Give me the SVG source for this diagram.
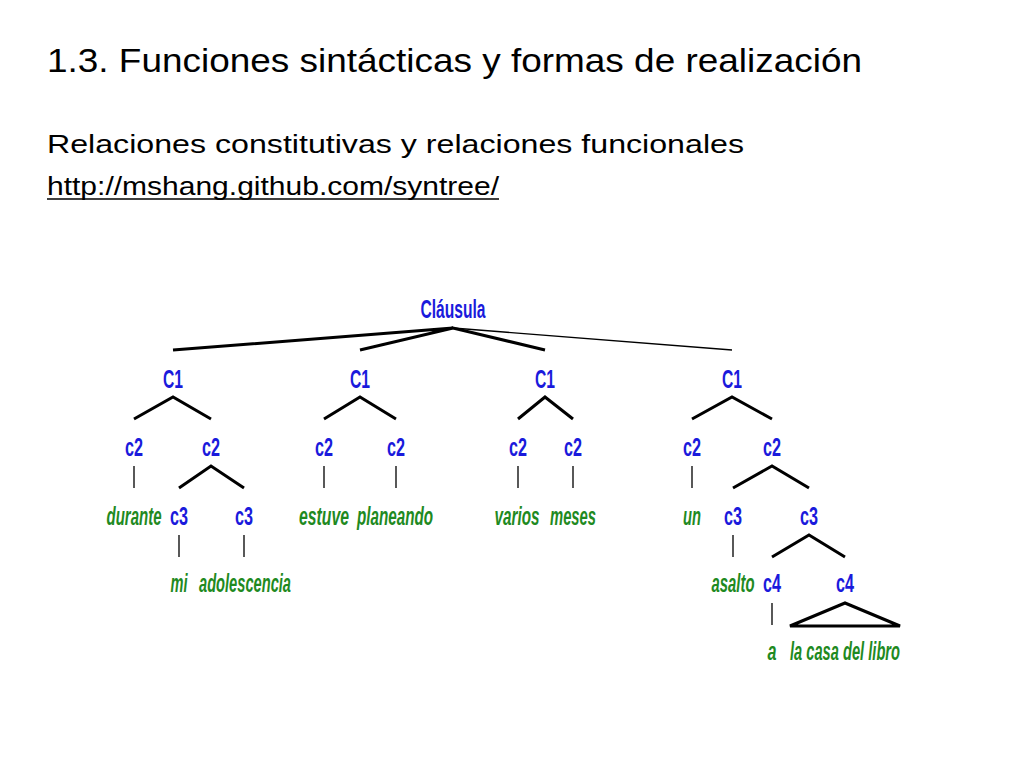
<svg xmlns="http://www.w3.org/2000/svg" width="1024" height="768" viewBox="0 0 1024 768">
<style>
.h{font-family:"Liberation Sans",Arial,sans-serif;fill:#000}
.n{font-family:"Liberation Sans",Arial,sans-serif;font-weight:bold;font-size:25px;fill:#1a1adc;text-anchor:middle}
.w{font-family:"Liberation Sans",Arial,sans-serif;font-weight:bold;font-style:italic;font-size:25px;fill:#1f8a1f;text-anchor:middle}
.e{stroke:#000;stroke-width:3;fill:none}
.t{stroke:#000;stroke-width:1.3;fill:none}
</style>
<rect width="1024" height="768" fill="#fff"/>
<text class="h" x="47" y="72" font-size="33" textLength="815" lengthAdjust="spacingAndGlyphs">1.3. Funciones sintácticas y formas de realización</text>
<text class="h" x="47" y="153" font-size="25" textLength="697" lengthAdjust="spacingAndGlyphs">Relaciones constitutivas y relaciones funcionales</text>
<text class="h" x="47" y="195" font-size="25" textLength="452" lengthAdjust="spacingAndGlyphs">http://mshang.github.com/syntree/</text>
<line x1="47" y1="199" x2="499" y2="199" stroke="#000" stroke-width="1.5"/>
<g id="connectors">
<path class="e" d="M173,350 L453,328 M360,350 L453,328 L545,350"/>
<path class="t" d="M453,328 L732,350"/>
<path class="e" d="M134,419 L173,397 L211,419 M179,488 L211,466 L244,488"/>
<path class="e" d="M324,419 L360,397 L396,419 M518,419 L545,397 L573,419"/>
<path class="e" d="M692,419 L732,397 L772,419 M733,488 L772,466 L809,488 M772,557 L809,535 L845,557"/>
<path class="e" d="M790,626 L845,603 L900,626 Z" stroke-width="2.5"/>
<path class="t" d="M134,466V488 M324,466V488 M396,466V488 M518,466V488 M573,466V488 M692,466V488 M179,535V557 M244,535V557 M733,535V557 M772,603V625"/>
</g>
<g id="n-clausula"><text class="n" x="453" y="318" textLength="65" lengthAdjust="spacingAndGlyphs">Cláusula</text></g>
<g id="n-c1a"><text class="n" x="173" y="388" textLength="20" lengthAdjust="spacingAndGlyphs">C1</text></g>
<g id="n-c1b"><text class="n" x="360" y="388" textLength="20" lengthAdjust="spacingAndGlyphs">C1</text></g>
<g id="n-c1c"><text class="n" x="545" y="388" textLength="20" lengthAdjust="spacingAndGlyphs">C1</text></g>
<g id="n-c1d"><text class="n" x="732" y="388" textLength="20" lengthAdjust="spacingAndGlyphs">C1</text></g>
<g id="n-c2"><text class="n" x="134" y="456" textLength="18" lengthAdjust="spacingAndGlyphs">c2</text><text class="n" x="211" y="456" textLength="18" lengthAdjust="spacingAndGlyphs">c2</text><text class="n" x="324" y="456" textLength="18" lengthAdjust="spacingAndGlyphs">c2</text><text class="n" x="396" y="456" textLength="18" lengthAdjust="spacingAndGlyphs">c2</text><text class="n" x="518" y="456" textLength="18" lengthAdjust="spacingAndGlyphs">c2</text><text class="n" x="573" y="456" textLength="18" lengthAdjust="spacingAndGlyphs">c2</text><text class="n" x="692" y="456" textLength="18" lengthAdjust="spacingAndGlyphs">c2</text><text class="n" x="772" y="456" textLength="18" lengthAdjust="spacingAndGlyphs">c2</text></g>
<g id="n-c3"><text class="n" x="179" y="525" textLength="18" lengthAdjust="spacingAndGlyphs">c3</text><text class="n" x="244" y="525" textLength="18" lengthAdjust="spacingAndGlyphs">c3</text><text class="n" x="733" y="525" textLength="18" lengthAdjust="spacingAndGlyphs">c3</text><text class="n" x="809" y="525" textLength="18" lengthAdjust="spacingAndGlyphs">c3</text></g>
<g id="n-c4"><text class="n" x="772" y="592" textLength="18" lengthAdjust="spacingAndGlyphs">c4</text><text class="n" x="845" y="592" textLength="18" lengthAdjust="spacingAndGlyphs">c4</text></g>
<g id="words">
<text class="w" x="134" y="525" textLength="55" lengthAdjust="spacingAndGlyphs">durante</text>
<text class="w" x="324" y="525" textLength="50" lengthAdjust="spacingAndGlyphs">estuve</text>
<text class="w" x="395" y="525" textLength="76" lengthAdjust="spacingAndGlyphs">planeando</text>
<text class="w" x="517" y="525" textLength="45" lengthAdjust="spacingAndGlyphs">varios</text>
<text class="w" x="573" y="525" textLength="46" lengthAdjust="spacingAndGlyphs">meses</text>
<text class="w" x="692" y="525" textLength="18" lengthAdjust="spacingAndGlyphs">un</text>
<text class="w" x="179" y="592" textLength="17" lengthAdjust="spacingAndGlyphs">mi</text>
<text class="w" x="245" y="592" textLength="92" lengthAdjust="spacingAndGlyphs">adolescencia</text>
<text class="w" x="733" y="592" textLength="43" lengthAdjust="spacingAndGlyphs">asalto</text>
<text class="w" x="772" y="660" textLength="9" lengthAdjust="spacingAndGlyphs">a</text>
<text class="w" x="845" y="660" textLength="110" lengthAdjust="spacingAndGlyphs">la casa del libro</text>
</g>
</svg>
